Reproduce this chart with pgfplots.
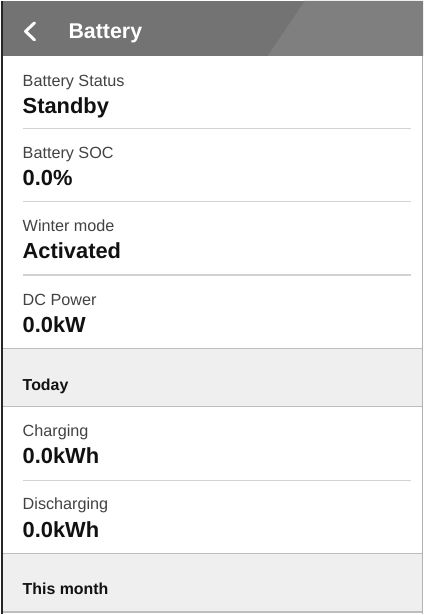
\documentclass[border=0pt]{standalone}
\usepackage{pgfplots}
\pgfplotsset{compat=1.18}
\usepackage{fontspec}
\setmainfont{Liberation Sans}
\definecolor{hdr}{HTML}{737373}
\definecolor{hdrlight}{HTML}{7F7F7F}
\definecolor{band}{HTML}{EFEFEF}
\definecolor{sep}{HTML}{D2D2D2}
\definecolor{bandline}{HTML}{BDBDBD}
\definecolor{lbl}{HTML}{424242}
\definecolor{val}{HTML}{111111}
\newcommand{\lab}[3]{\node[anchor=base west,text=lbl,inner sep=0pt,font=\fontsize{16.3}{19}\selectfont] at (axis cs:#1,#2) {#3};}
\newcommand{\valtxt}[3]{\node[anchor=base west,text=val,inner sep=0pt,font=\fontsize{22}{26}\selectfont\bfseries] at (axis cs:#1,#2) {#3};}
\newcommand{\sectxt}[3]{\node[anchor=base west,text=val,inner sep=0pt,font=\fontsize{16}{19}\selectfont\bfseries] at (axis cs:#1,#2) {#3};}
\begin{document}
\begin{tikzpicture}
\begin{axis}[
  width=424bp, height=615bp, scale only axis,
  xmin=0, xmax=424, ymin=0, ymax=615, y dir=reverse,
  hide axis, clip=false]
% background
\addplot[fill=white, draw=none] coordinates {(0,0) (424,0) (424,615) (0,615)};
% header
\addplot[fill=hdr, draw=none] coordinates {(0,0) (424,0) (424,55) (0,55)};
\addplot[fill=hdrlight, draw=none] coordinates {(305,0) (424,0) (424,55) (268,55)};
% back chevron
\addplot[white, line width=3pt, line cap=round, line join=round] coordinates {(34,22) (25,30.5) (34,39)};
% grey bands
\addplot[fill=band, draw=none] coordinates {(0,349) (424,349) (424,407) (0,407)};
\addplot[fill=band, draw=none] coordinates {(0,554) (424,554) (424,613) (0,613)};
\addplot[bandline, line width=1.2pt] coordinates {(0,349) (424,349)};
\addplot[bandline, line width=1.2pt] coordinates {(0,407) (424,407)};
\addplot[bandline, line width=1.2pt] coordinates {(0,554) (424,554)};
\addplot[bandline, line width=1.2pt] coordinates {(0,613) (424,613)};
% separators
\addplot[sep, line width=1.3pt] coordinates {(22,128) (412,128)};
\addplot[sep, line width=1.3pt] coordinates {(22,201) (412,201)};
\addplot[sep, line width=1.3pt] coordinates {(22,275) (412,275)};
\addplot[sep, line width=1.3pt] coordinates {(22,481) (412,481)};
% frame
\addplot[black!85, line width=2pt] coordinates {(1,0) (1,615)};
\addplot[black!30, line width=1pt] coordinates {(423.5,55) (423.5,615)};
% texts
\node[anchor=base west,text=white,inner sep=0pt,font=\fontsize{21.5}{25}\selectfont\bfseries] at (axis cs:68,37.5) {Battery};
\lab{22}{86}{Battery Status}
\valtxt{22}{113}{Standby}
\lab{22}{158}{Battery SOC}
\valtxt{22}{185}{0.0\%}
\lab{22}{231.5}{Winter mode}
\valtxt{22}{258}{Activated}
\lab{22}{305}{DC Power}
\valtxt{22}{332.5}{0.0kW}
\sectxt{22}{391}{Today}
\lab{22}{436.5}{Charging}
\valtxt{22}{464.5}{0.0kWh}
\lab{22}{510}{Discharging}
\valtxt{22}{538}{0.0kWh}
\sectxt{22}{595}{This month}
\end{axis}
\end{tikzpicture}
\end{document}
